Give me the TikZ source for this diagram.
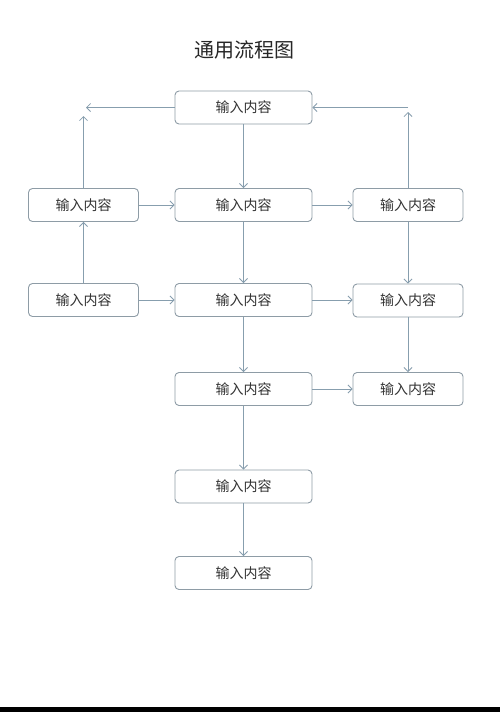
\documentclass[tikz,border=0pt]{standalone}
\usepackage{fontspec}
\newfontfamily\cjk{Noto Sans CJK SC}
\usetikzlibrary{arrows.meta}
\definecolor{boxline}{HTML}{8E9CA6}
\definecolor{arrline}{HTML}{879EAE}
\tikzset{
  stepbox/.style={draw=boxline, line width=0.9pt, rounded corners=4pt, fill=white,
    minimum height=33pt, inner sep=0pt, font=\cjk\fontsize{14}{16}\selectfont, text=black!80},
  midbox/.style={stepbox, minimum width=137pt},
  sidebox/.style={stepbox, minimum width=110pt},
  conn/.style={draw=arrline, line width=0.8pt, -{Straight Barb[length=4pt,width=8pt]}},
}
\begin{document}
\begin{tikzpicture}[x=1pt,y=-1pt]
\useasboundingbox (0,0) rectangle (500,712);
\fill[white] (0,0) rectangle (500,712);
\fill[black] (0,707) rectangle (500,712);
\node[font=\cjk\fontsize{20}{24}\selectfont, text=black!85] (title) at (244,50) {通用流程图};

\node[midbox] (T) at (243.5,107.5) {输入内容};
\node[sidebox] (L2) at (83.5,205) {输入内容};
\node[midbox] (M2) at (243.5,205) {输入内容};
\node[sidebox] (R2) at (408,205) {输入内容};
\node[sidebox] (L3) at (83.5,300) {输入内容};
\node[midbox] (M3) at (243.5,300) {输入内容};
\node[sidebox] (R3) at (408,300.5) {输入内容};
\node[midbox] (M4) at (243.5,389) {输入内容};
\node[sidebox] (R4) at (408,389) {输入内容};
\node[midbox] (M5) at (243.5,486.5) {输入内容};
\node[midbox] (M6) at (243.5,573) {输入内容};

\coordinate (TL) at (86,107.5);
\coordinate (LU) at (83.5,116);
\coordinate (TR) at (408,107.5);
\coordinate (RU) at (408,112);

\draw[conn] (T.west) -- (TL);
\draw[conn] (L2.north) -- (LU);
\draw[conn] (TR) -- (T.east);
\draw[conn] (R2.north) -- (RU);
\draw[conn] (T) -- (M2);
\draw[conn] (L2) -- (M2);
\draw[conn] (M2) -- (R2);
\draw[conn] (L3) -- (L2);
\draw[conn] (L3) -- (M3);
\draw[conn] (M3.east) -- (R3.west |- M3.east);
\draw[conn] (M2) -- (M3);
\draw[conn] (R2) -- (R3);
\draw[conn] (M3) -- (M4);
\draw[conn] (R3) -- (R4);
\draw[conn] (M4) -- (R4);
\draw[conn] (M4) -- (M5);
\draw[conn] (M5) -- (M6);
\end{tikzpicture}
\end{document}
